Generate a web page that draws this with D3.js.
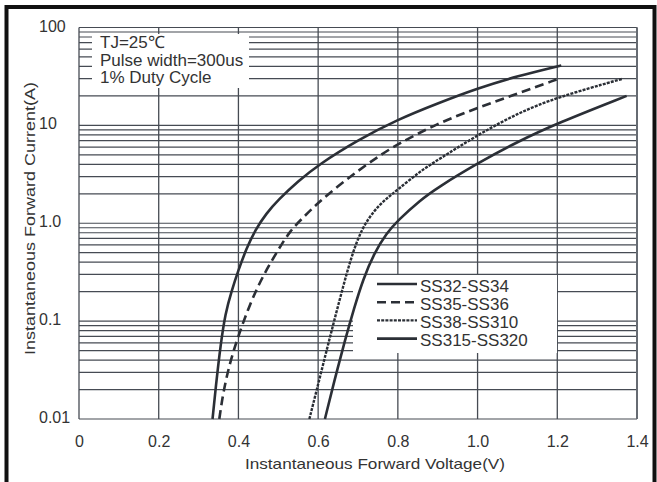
<!DOCTYPE html>
<html>
<head>
<meta charset="utf-8">
<script src="https://cdn.jsdelivr.net/npm/d3@7"></script>
<style>
  html, body { margin: 0; padding: 0; background: #fff; }
  svg { display: block; font-family: "Liberation Sans", Arial, sans-serif; }
</style>
</head>
<body>
<svg id="chart" width="657" height="482"></svg>
<script>
// ---- data ----
const xTickValues = [0, 0.2, 0.4, 0.6, 0.8, 1.0, 1.2, 1.4];
const xTickLabels = ["0", "0.2", "0.4", "0.6", "0.8", "1.0", "1.2", "1.4"];
const yTickValues = [0.01, 0.1, 1, 10, 100];
const yTickLabels = ["0.01", "0.1", "1.0", "10", "100"];

const seriesNames = ["SS32-SS34", "SS35-SS36", "SS38-SS310", "SS315-SS320"];

const s1V = [0.335, 0.345, 0.355, 0.367, 0.383, 0.4, 0.42, 0.442, 0.47, 0.5, 0.55, 0.6, 0.7, 0.8, 0.9, 1.0, 1.1, 1.21];
const s1I = [0.01, 0.025, 0.056, 0.12, 0.204, 0.333, 0.55, 0.853, 1.26, 1.74, 2.69, 3.94, 7.1, 11.5, 16.8, 23.9, 31.9, 41];

const s2V = [0.352, 0.362, 0.38, 0.404, 0.425, 0.446, 0.471, 0.5, 0.529, 0.56, 0.6, 0.65, 0.7, 0.75, 0.8, 0.9, 1.0, 1.1, 1.2];
const s2I = [0.01, 0.019, 0.04, 0.079, 0.135, 0.214, 0.339, 0.537, 0.83, 1.12, 1.62, 2.4, 3.43, 4.79, 6.46, 10.5, 15.1, 21.1, 29.6];

const s3V = [0.578, 0.596, 0.62, 0.64, 0.663, 0.685, 0.709, 0.74, 0.772, 0.8, 0.856, 0.9, 1.0, 1.1, 1.2, 1.362];
const s3I = [0.01, 0.0195, 0.048, 0.1, 0.229, 0.479, 0.871, 1.35, 1.8, 2.21, 3.4, 4.43, 7.97, 13.3, 19.4, 29.8];

const s4V = [0.617, 0.64, 0.667, 0.69, 0.713, 0.74, 0.772, 0.8, 0.856, 0.9, 1.0, 1.1, 1.2, 1.374];
const s4I = [0.01, 0.024, 0.063, 0.135, 0.269, 0.49, 0.794, 1.07, 1.72, 2.32, 4.1, 6.8, 10.5, 20];

const noteLines = ["TJ=25\u2103", "Pulse width=300us", "1% Duty Cycle"];
const xTitle = "Instantaneous Forward Voltage(V)";
const yTitle = "Instantaneous Forward Current(A)";

// ---- drawing ----
const svg = d3.select("#chart");
const ink = "#2b2f36";
const gridCol = "#464b53";

const x = d3.scaleLinear().domain([0, 1.4]).range([79, 637]);
const y = d3.scaleLog().domain([0.01, 100]).range([419, 27.5]);

// outer frame
svg.append("rect").attr("x", 6.5).attr("y", 7).attr("width", 648).attr("height", 490)
  .attr("fill", "none").attr("stroke", "#111").attr("stroke-width", 4);

// grid
const yGrid = [];
[0.01, 0.1, 1, 10].forEach(d => { for (let k = 1; k <= 9; k++) yGrid.push(d * k); });
yGrid.push(100);

const grid = svg.append("g");
grid.selectAll("line.h").data(yGrid).join("line")
  .attr("x1", x(0)).attr("x2", x(1.4))
  .attr("y1", d => y(d)).attr("y2", d => y(d))
  .attr("stroke", gridCol).attr("stroke-width", 1.2);
grid.selectAll("line.v").data(xTickValues).join("line")
  .attr("y1", y(0.01)).attr("y2", y(100))
  .attr("x1", d => x(d)).attr("x2", d => x(d))
  .attr("stroke", gridCol).attr("stroke-width", 1.3);
svg.append("line").attr("x1", x(1.4)).attr("x2", x(1.4)).attr("y1", y(100)).attr("y2", y(0.01))
  .attr("stroke", "#666b72").attr("stroke-width", 2);

// white boxes behind the notes and legend
svg.append("rect").attr("x", 92).attr("y", 34).attr("width", 157).attr("height", 54).attr("fill", "#fff");
svg.append("rect").attr("x", 353).attr("y", 275).attr("width", 204).attr("height", 78).attr("fill", "#fff");

// axes
const xAxis = d3.axisBottom(x).tickValues(xTickValues)
  .tickFormat((d, i) => xTickLabels[i]).tickSize(0).tickPadding(17);
const gx = svg.append("g").attr("transform", `translate(0,${y(0.01)})`).call(xAxis);
gx.select(".domain").remove();
gx.selectAll("text").attr("font-size", 16).attr("fill", "#333").attr("font-family", "Liberation Sans, Arial, sans-serif");

const yAxis = d3.axisLeft(y).tickValues(yTickValues)
  .tickFormat((d, i) => yTickLabels[i]).tickSize(0);
const gy = svg.append("g").attr("transform", "translate(39,0)").call(yAxis);
gy.select(".domain").remove();
gy.selectAll("text").attr("x", 0).attr("dy", "0.22em").attr("text-anchor", "start")
  .attr("font-size", 16).attr("fill", "#333").attr("font-family", "Liberation Sans, Arial, sans-serif");

// axis titles
svg.append("text").attr("x", 375).attr("y", 469).attr("text-anchor", "middle")
  .attr("font-size", 15).attr("fill", "#333")
  .attr("textLength", 260).attr("lengthAdjust", "spacingAndGlyphs").text(xTitle);
svg.append("text").attr("transform", "translate(35,218.5) rotate(-90)").attr("text-anchor", "middle")
  .attr("font-size", 15).attr("fill", "#333")
  .attr("textLength", 273).attr("lengthAdjust", "spacingAndGlyphs").text(yTitle);

// notes
svg.append("g").selectAll("text").data(noteLines).join("text")
  .attr("x", 100).attr("y", (d, i) => 48 + i * 17.6)
  .attr("font-size", 17).attr("fill", "#333").text(d => d);

// curves
const series = [
  { v: s1V, i: s1I, dash: null, w: 2.6 },
  { v: s2V, i: s2I, dash: "9,5", w: 2.6 },
  { v: s3V, i: s3I, dash: "3,1.2", w: 2.4 },
  { v: s4V, i: s4I, dash: null, w: 2.6 }
];
const line = d3.line().x(d => x(d[0])).y(d => y(d[1])).curve(d3.curveBasis);
series.forEach(s => {
  const pts = s.v.map((v, k) => [v, s.i[k]]);
  svg.append("path").attr("d", line(pts)).attr("fill", "none")
    .attr("stroke", ink).attr("stroke-width", s.w)
    .attr("stroke-dasharray", s.dash);
});

// legend
const lg = svg.append("g");
seriesNames.forEach((name, k) => {
  const ly = 284 + k * 18.2;
  lg.append("line").attr("x1", 377).attr("x2", 417).attr("y1", ly).attr("y2", ly)
    .attr("stroke", ink).attr("stroke-width", series[k].w)
    .attr("stroke-dasharray", series[k].dash);
  lg.append("text").attr("x", 420).attr("y", ly + 7.5).attr("font-size", 17)
    .attr("fill", "#333").text(name);
});
</script>
</body>
</html>
